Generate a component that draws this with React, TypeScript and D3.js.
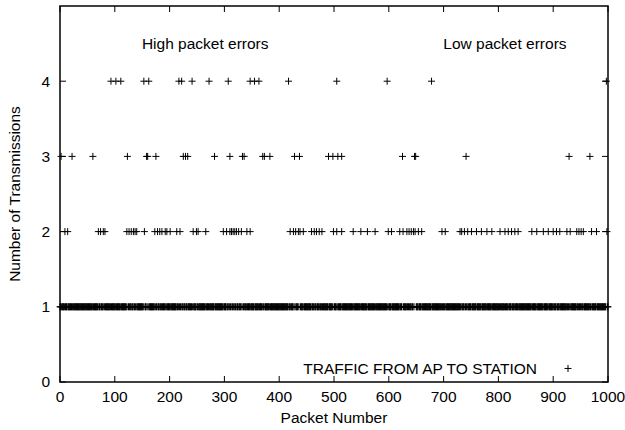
import React from 'react';
import * as d3 from 'd3';

// packet numbers that needed 2, 3 and 4 transmissions; every other packet went through once
const packetCount = 1000;
const twoTx = [
  9, 14, 70, 74, 79, 82, 122, 126, 130, 134, 137, 140, 154, 173, 178, 182, 186, 192, 195, 201,
  213, 219, 243, 249, 252, 266, 298, 304, 310, 313, 316, 319, 322, 326, 331, 341, 347, 420,
  426, 430, 435, 438, 444, 459, 464, 468, 473, 478, 499, 505, 514, 535, 549, 561, 575, 599,
  605, 620, 626, 633, 637, 641, 645, 648, 654, 660, 697, 703, 730, 733, 738, 744, 751, 760,
  769, 779, 788, 803, 812, 818, 824, 830, 836, 861, 870, 882, 891, 900, 906, 912, 925, 931,
  943, 947, 951, 955, 970, 979, 998,
];
const threeTx = [
  2, 22, 60, 123, 158, 160, 175, 225, 229, 233, 282, 310, 333, 336, 370, 373, 383, 428, 437,
  490, 498, 507, 514, 625, 647, 649, 741, 929, 967,
];
const fourTx = [93, 102, 111, 153, 162, 217, 222, 241, 272, 307, 347, 355, 363, 417, 505, 597, 678, 997];

const xTicks = [0, 100, 200, 300, 400, 500, 600, 700, 800, 900, 1000];
const yTicks = [0, 1, 2, 3, 4];

const retried = new Set([...twoTx, ...threeTx, ...fourTx]);
const oneTx = d3.range(0, packetCount + 1).filter((p: number) => !retried.has(p));

const points = [
  ...oneTx.map((p: number) => ({ packet: p, tx: 1 })),
  ...twoTx.map((p) => ({ packet: p, tx: 2 })),
  ...threeTx.map((p) => ({ packet: p, tx: 3 })),
  ...fourTx.map((p) => ({ packet: p, tx: 4 })),
];

const width = 625;
const height = 430;
const margin = { top: 6, right: 17, bottom: 48, left: 60 };
const font = '"Liberation Sans", Arial, sans-serif';

function Cross({ cx, cy }: { cx: number; cy: number }) {
  const r = 3.5;
  return <path d={`M${cx - r},${cy}H${cx + r}M${cx},${cy - r}V${cy + r}`} stroke='#000' strokeWidth={1} fill='none' />;
}

export default function App() {
  const x = d3.scaleLinear().domain([0, 1000]).range([margin.left, width - margin.right]);
  const y = d3.scaleLinear().domain([0, 5]).range([height - margin.bottom, margin.top]);
  const [x0, x1] = x.range();
  const [y0, y1] = y.range();
  const tick = 6;

  return (
    <svg width={width} height={height} style={{ position: 'absolute', left: 0, top: 0, background: '#fff' }}>
      <g fontFamily={font} fontSize={15.5} fill='#000'>
        {xTicks.map((t) => (
          <g key={'x' + t}>
            <line x1={x(t)} x2={x(t)} y1={y0} y2={y0 - tick} stroke='#000' />
            <line x1={x(t)} x2={x(t)} y1={y1} y2={y1 + tick} stroke='#000' />
            <text x={x(t)} y={y0 + 20} textAnchor='middle'>{t}</text>
          </g>
        ))}
        {yTicks.map((t) => (
          <g key={'y' + t}>
            <line x1={x0} x2={x0 + tick} y1={y(t)} y2={y(t)} stroke='#000' />
            <line x1={x1} x2={x1 - tick} y1={y(t)} y2={y(t)} stroke='#000' />
            <text x={x0 - 10} y={y(t)} dy='0.35em' textAnchor='end'>{t}</text>
          </g>
        ))}
        <rect x={x0} y={y1} width={x1 - x0} height={y0 - y1} fill='none' stroke='#000' strokeWidth={1.5} />

        {points.map((d, i) => (
          <Cross key={i} cx={x(d.packet)} cy={y(d.tx)} />
        ))}

        <text x={x(265)} y={y(4.5)} dy='0.35em' textAnchor='middle'>High packet errors</text>
        <text x={x(812)} y={y(4.5)} dy='0.35em' textAnchor='middle'>Low packet errors</text>

        <text x={537} y={y(0.18)} dy='0.35em' textAnchor='end'>TRAFFIC FROM AP TO STATION</text>
        <Cross cx={568} cy={y(0.18)} />

        <text x={(x0 + x1) / 2} y={height - 7} textAnchor='middle'>Packet Number</text>
        <text transform={`translate(15,${(y0 + y1) / 2}) rotate(-90)`} dy='0.35em' textAnchor='middle'>
          Number of Transmissions
        </text>
      </g>
    </svg>
  );
}
